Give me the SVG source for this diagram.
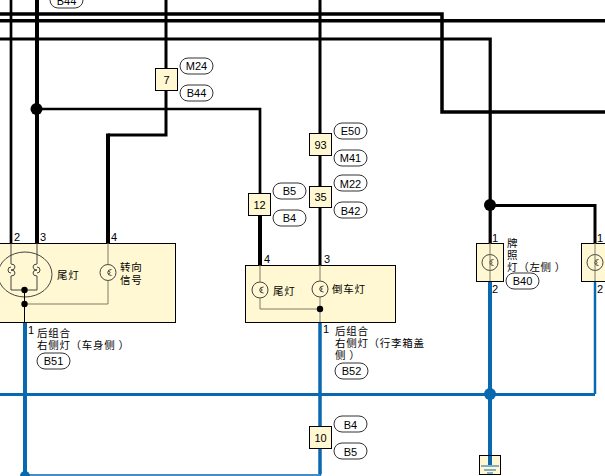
<svg xmlns="http://www.w3.org/2000/svg" width="605" height="476" viewBox="0 0 605 476">
<style>
text{font-family:"Liberation Sans","Noto Sans CJK SC",sans-serif;font-size:11px;fill:#000}
.c{font-family:"Noto Sans CJK SC","Liberation Sans",sans-serif;font-size:10.500px;letter-spacing:.7px}
.m{text-anchor:middle}
.w{fill:none;stroke:#000;stroke-miterlimit:10}
.b{fill:none;stroke:#0868b0}
.t{fill:none;stroke:#7f7a68;stroke-width:1}
.box{fill:#fff8d2;stroke:#000;stroke-width:1}
.pill{fill:#fff;stroke:#333;stroke-width:1}
.lamp{fill:none;stroke:#444;stroke-width:1}
</style>
<defs>
<g id="lamp"><circle class="lamp" r="8"/><path class="lamp" d="M3.500 -3a3.800 3 0 1 0 0 6M0 -1.500a2 1.500 0 0 1 0 3"/></g>
</defs>
<g id="connectors">
<path class="w" stroke-width="3.500" d="M0 14H442V112H605"/>
<path class="w" stroke-width="3.500" d="M0 20.800H605"/>
<path class="w" stroke-width="3.200" d="M0 39H490.200V243"/>
<path class="w" stroke-width="2.700" d="M11 0V243"/>
<path class="w" stroke-width="4" d="M37 0V243"/>
<path class="w" stroke-width="3" d="M166 0V135H108"/>
<path class="w" stroke-width="4" d="M108 133.500V243"/>
<path class="w" stroke-width="2.700" d="M37 109H260V195"/>
<path class="w" stroke-width="4" d="M260 195V265"/>
<path class="w" stroke-width="3" d="M320 0V265"/>
<path class="w" stroke-width="3" d="M490 205.500H595V243"/>
<circle cx="36.500" cy="109" r="6"/>
<circle cx="490" cy="205" r="6"/>
<path class="b" stroke-width="4" d="M25 322V476"/>
<path class="b" stroke-width="3.500" d="M320 322V474"/>
<path class="b" stroke-width="3" d="M0 394.500H595"/>
<path class="b" stroke-width="4" d="M490 281V465"/>
<path class="b" stroke-width="2.500" d="M595 281V394"/>
<path class="b" stroke-width="1.500" d="M25 475H320.500V470"/>
<circle cx="490" cy="394" r="6" fill="#0868b0"/>
<circle cx="25" cy="476" r="5" fill="#0868b0"/>
</g>
<g id="comp-b51">
<rect class="box" x="-2" y="243.500" width="177.500" height="79"/>
<ellipse class="lamp" cx="25" cy="274.500" rx="27" ry="22.500"/>
<path class="lamp" d="M11 243V264M11 276V290H37V276M37 243V264"/>
<path class="lamp" d="M11 264a4 3 0 0 1 0 6a4 3 0 0 1 0 6M11 267a3 3 0 0 0 0 6M37 264a4 3 0 0 0 0 6a4 3 0 0 0 0 6M37 267a3 3 0 0 1 0 6"/>
<use href="#lamp" x="108" y="272.500"/>
<path class="t" d="M108 243V264.500M108 280.500V304H24"/>
<path d="M24.500 290V322" stroke="#000" fill="none"/>
<circle cx="24.500" cy="290" r="3.200"/>
<circle cx="24.500" cy="304" r="3.200"/>
<text class="c" x="57" y="279">尾灯</text>
<text class="c" x="120" y="271">转向</text>
<text class="c" x="120" y="284">信号</text>
<text x="14" y="241">2</text><text x="40" y="241">3</text><text x="111" y="241">4</text>
<text x="28" y="334">1</text>
<text class="c" x="37" y="337">后组合</text>
<text class="c" x="37" y="349">右侧灯（车身侧<tspan dx="3">）</tspan></text>
<rect class="pill" x="37" y="353" width="33" height="16" rx="8"/>
<text class="m" x="53.500" y="365">B51</text>
</g>
<g id="comp-b52">
<rect class="box" x="245.500" y="265.500" width="150" height="57"/>
<use href="#lamp" x="260" y="290"/>
<use href="#lamp" x="320" y="289"/>
<path class="t" d="M260 265V282M260 298V309H320M320 265V281M320 297V322"/>
<circle cx="320" cy="309" r="3.200"/>
<text class="c" x="273" y="295">尾灯</text>
<text class="c" x="332" y="293">倒车灯</text>
<text x="264" y="263">4</text><text x="324" y="263">3</text>
<text x="323" y="333">1</text>
<text class="c" x="335" y="335">后组合</text>
<text class="c" x="335" y="347">右侧灯（行李箱盖</text>
<text class="c" x="335" y="359">侧<tspan dx="3">）</tspan></text>
<rect class="pill" x="335" y="363" width="33" height="16" rx="8"/>
<text class="m" x="351.500" y="375">B52</text>
</g>
<g id="comp-b40">
<rect class="box" x="476.500" y="243.500" width="27" height="38"/>
<use href="#lamp" x="490" y="262.500"/>
<path class="t" d="M490 243V281"/>
<text x="492" y="242">1</text><text x="492" y="293">2</text>
<text class="c" x="507" y="247">牌</text>
<text class="c" x="507" y="259">照</text>
<text class="c" x="507" y="271">灯（左侧<tspan dx="3">）</tspan></text>
<rect class="pill" x="506" y="273" width="33" height="16" rx="8"/>
<text class="m" x="522.500" y="285">B40</text>
</g>
<g id="comp-right">
<rect class="box" x="581.500" y="243.500" width="32" height="38"/>
<use href="#lamp" x="595" y="262.500"/>
<path class="t" d="M595 243V281"/>
<text x="597" y="242">1</text><text x="597" y="293">2</text>
</g>
<g id="ground">
<rect class="box" x="479.500" y="455.500" width="21" height="19"/>
<path class="b" stroke-width="4" d="M490 456V465"/>
<path stroke="#0868b0" fill="none" d="M481 466H499M484 470H496M487 473H493"/>
</g>
<g id="splice-7"><rect class="box" x="155.500" y="68.500" width="22" height="22"/><text class="m" x="166.500" y="84">7</text>
<rect class="pill" x="180" y="58" width="33" height="16" rx="8"/><text class="m" x="196.500" y="70">M24</text>
<rect class="pill" x="180" y="85" width="33" height="16" rx="8"/><text class="m" x="196.500" y="97">B44</text></g>
<g id="splice-12"><rect class="box" x="248.500" y="193.500" width="22" height="22"/><text class="m" x="259.500" y="209">12</text>
<rect class="pill" x="273" y="183" width="33" height="16" rx="8"/><text class="m" x="289.500" y="195">B5</text>
<rect class="pill" x="273" y="210" width="33" height="16" rx="8"/><text class="m" x="289.500" y="222">B4</text></g>
<g id="splice-93"><rect class="box" x="309.500" y="133.500" width="22" height="22"/><text class="m" x="320.500" y="149">93</text>
<rect class="pill" x="334" y="123" width="33" height="16" rx="8"/><text class="m" x="350.500" y="135">E50</text>
<rect class="pill" x="334" y="150" width="33" height="16" rx="8"/><text class="m" x="350.500" y="162">M41</text></g>
<g id="splice-35"><rect class="box" x="309.500" y="186.500" width="22" height="21"/><text class="m" x="320.500" y="201">35</text>
<rect class="pill" x="334" y="175" width="33" height="16" rx="8"/><text class="m" x="350.500" y="188">M22</text>
<rect class="pill" x="334" y="202" width="33" height="16" rx="8"/><text class="m" x="350.500" y="215">B42</text></g>
<g id="splice-10"><rect class="box" x="309.500" y="426.500" width="22" height="22"/><text class="m" x="320.500" y="442">10</text>
<rect class="pill" x="334" y="416" width="33" height="16" rx="8"/><text class="m" x="350.500" y="429">B4</text>
<rect class="pill" x="334" y="443" width="33" height="16" rx="8"/><text class="m" x="350.500" y="456">B5</text></g>
<g id="label-top"><rect class="pill" x="50" y="-8" width="33" height="16" rx="8"/><text class="m" x="66.500" y="5">B44</text></g>
</svg>
